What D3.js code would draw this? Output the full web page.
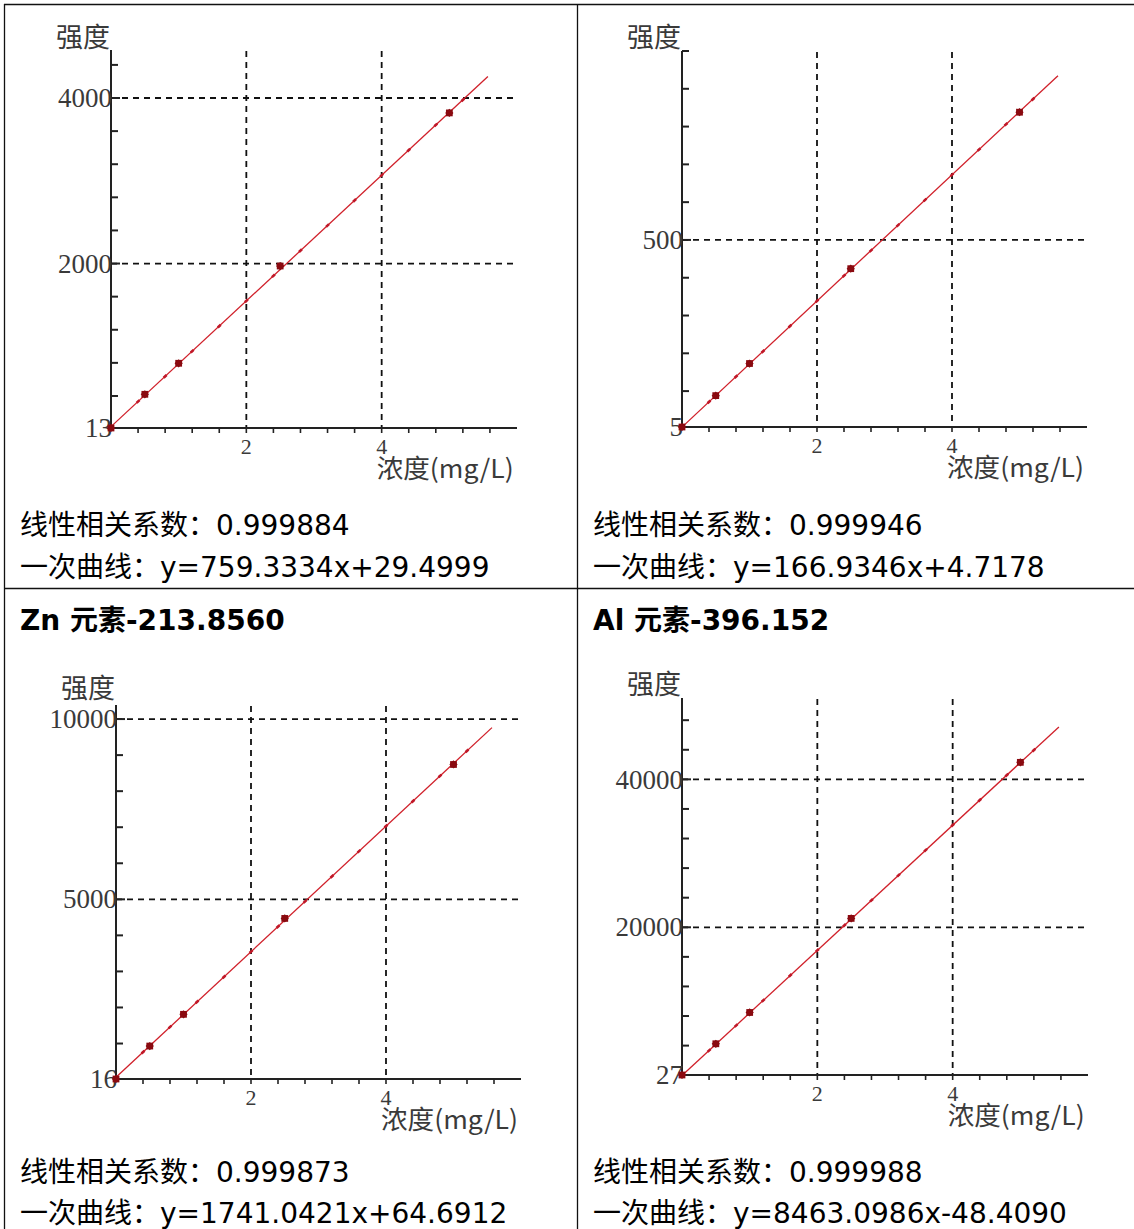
<!DOCTYPE html>
<html>
<head>
<meta charset="utf-8">
<script src="https://cdn.jsdelivr.net/npm/d3@7"></script>
<style>
  html, body { margin: 0; padding: 0; background: #fff; }
  svg { display: block; }
</style>
</head>
<body>
<svg id="chart" width="1134" height="1229"></svg>
<script>
// Calibration data: standard concentrations (mg/L) and measured intensities
const concentrations = [0, 0.5, 1.0, 2.5, 5.0];
const intensityPanel1 = [13, 420, 795, 1970, 3820];
const intensityPanel2 = [5, 88, 173, 424, 838];
const intensityZn = [16, 930, 1810, 4470, 8740];
const intensityAl = [27, 4250, 8480, 21200, 42300];

// Linear fit results
const slopes = [759.3334, 166.9346, 1741.0421, 8463.0986];
const intercepts = [29.4999, 4.7178, 64.6912, -48.4090];
const correlationText = ["0.999884", "0.999946", "0.999873", "0.999988"];
const equationText = ["y=759.3334x+29.4999", "y=166.9346x+4.7178", "y=1741.0421x+64.6912", "y=8463.0986x-48.4090"];
const panelTitles = ["", "", "Zn 元素-213.8560", "Al 元素-396.152"];

// Axis settings
const yMinLabels = [13, 5, 16, 27];
const yAxisTop = [4580, 1000, 10390, 51000];
const yLabeledTicks = [[2000, 4000], [500], [5000, 10000], [20000, 40000]];
const yMinorSteps = [400, 100, 1000, 4000];
const xLabeledTicks = [2, 4];
const xMinorStep = 0.4;
const xAxisMax = 6;
const fitXMax = 5.57;

const intensities = [intensityPanel1, intensityPanel2, intensityZn, intensityAl];

// Page layout (pixel frames of each plot area and its cell)
const frames = [
  { left: 111, bottom: 428, top: 50, width: 406, labelY: 47, textX: 20, line1: 535, line2: 577 },
  { left: 682, bottom: 427, top: 51, width: 405, labelY: 47, textX: 593, line1: 535, line2: 577 },
  { left: 116, bottom: 1079, top: 705, width: 405, labelY: 698, textX: 20, line1: 1182, line2: 1223, titleY: 630 },
  { left: 682, bottom: 1075, top: 698, width: 406, labelY: 694, textX: 593, line1: 1182, line2: 1223, titleY: 630 }
];

const svg = d3.select("#chart");
const cjk = "'Noto Sans CJK SC', 'Noto Sans', sans-serif";
const serif = "'Liberation Serif', 'DejaVu Serif', serif";
const textFont = "'DejaVu Sans', 'Noto Sans CJK SC', sans-serif";
const chartInk = "#3a3a3a";

// Table grid lines
const table = svg.append("g").attr("stroke", "#111").attr("stroke-width", 1.3);
table.append("line").attr("x1", 4).attr("x2", 1134).attr("y1", 4.5).attr("y2", 4.5);
table.append("line").attr("x1", 4.5).attr("x2", 4.5).attr("y1", 4).attr("y2", 1229);
table.append("line").attr("x1", 577.5).attr("x2", 577.5).attr("y1", 4).attr("y2", 1229);
table.append("line").attr("x1", 4).attr("x2", 1134).attr("y1", 588.5).attr("y2", 588.5);

frames.forEach((f, i) => {
  const g = svg.append("g");
  const x = d3.scaleLinear().domain([0, xAxisMax]).range([f.left, f.left + f.width]);
  const y = d3.scaleLinear().domain([yMinLabels[i], yAxisTop[i]]).range([f.bottom, f.top]);

  // Dashed grid at labelled values
  const grid = g.append("g").attr("stroke", "#111").attr("stroke-width", 1.8).attr("stroke-dasharray", "6,5");
  grid.selectAll("line.h").data(yLabeledTicks[i]).join("line")
    .attr("x1", f.left).attr("x2", f.left + f.width)
    .attr("y1", d => y(d)).attr("y2", d => y(d));
  grid.selectAll("line.v").data(xLabeledTicks).join("line")
    .attr("class", "v")
    .attr("x1", d => x(d)).attr("x2", d => x(d))
    .attr("y1", f.top + 1).attr("y2", f.bottom);

  // Axes
  const axes = g.append("g").attr("stroke", "#222").attr("stroke-width", 2);
  axes.append("line").attr("x1", f.left).attr("x2", f.left).attr("y1", f.top).attr("y2", f.bottom);
  axes.append("line").attr("x1", f.left).attr("x2", f.left + f.width).attr("y1", f.bottom).attr("y2", f.bottom);

  const yMinor = d3.range(yMinorSteps[i], yAxisTop[i] + 1e-6, yMinorSteps[i]);
  axes.selectAll("line.yt").data(yMinor).join("line")
    .attr("class", "yt")
    .attr("x1", f.left).attr("x2", d => f.left + (yLabeledTicks[i].includes(d) ? 9 : 7))
    .attr("y1", d => y(d)).attr("y2", d => y(d));

  const xMinor = d3.range(xMinorStep, xAxisMax - 0.2, xMinorStep);
  axes.selectAll("line.xt").data(xMinor).join("line")
    .attr("class", "xt")
    .attr("stroke-width", 1.6)
    .attr("x1", d => x(d)).attr("x2", d => x(d))
    .attr("y1", f.bottom - 1).attr("y2", f.bottom + 5);

  // Axis labels
  const yLabels = [yMinLabels[i]].concat(yLabeledTicks[i]);
  g.selectAll("text.yl").data(yLabels).join("text")
    .attr("x", f.left + 1).attr("y", d => y(d)).attr("dy", "0.34em")
    .attr("text-anchor", "end")
    .attr("font-family", serif).attr("font-size", 27)
    .attr("fill", chartInk)
    .text(d => d);

  g.selectAll("text.xl").data(xLabeledTicks).join("text")
    .attr("x", d => x(d)).attr("y", f.bottom + 19).attr("dy", "0.34em")
    .attr("text-anchor", "middle")
    .attr("font-family", serif).attr("font-size", 22)
    .attr("fill", chartInk)
    .text(d => d);

  g.append("text")
    .attr("x", f.left - 1).attr("y", f.labelY)
    .attr("text-anchor", "end")
    .attr("font-family", cjk).attr("font-size", 27)
    .attr("fill", chartInk)
    .text("强度");

  g.append("text")
    .attr("x", x(4) - 5).attr("y", f.bottom + 50)
    .attr("font-family", cjk).attr("font-size", 26)
    .attr("textLength", 137).attr("lengthAdjust", "spacingAndGlyphs")
    .attr("fill", chartInk)
    .text("浓度(mg/L)");

  // Fitted calibration line
  const fit = d => slopes[i] * d + intercepts[i];
  const lineGen = d3.line().x(d => x(d)).y(d => y(fit(d)));
  g.append("path")
    .attr("d", lineGen([0, fitXMax]))
    .attr("fill", "none").attr("stroke", "#d0202a").attr("stroke-width", 1.3);
  const seg = Math.hypot(x(xMinorStep) - x(0), y(fit(xMinorStep)) - y(fit(0)));
  g.append("path")
    .attr("d", lineGen([0, fitXMax]))
    .attr("fill", "none").attr("stroke", "#c01828").attr("stroke-width", 2.6)
    .attr("stroke-dasharray", `4,${seg - 4}`)
    .attr("stroke-dashoffset", 2);

  // Standard points
  g.selectAll("path.pt").data(concentrations).join("path")
    .attr("class", "pt")
    .attr("transform", (d, k) => `translate(${x(d)},${y(intensities[i][k])})`)
    .attr("d", d3.symbol().type(d3.symbolSquare).size(46))
    .attr("fill", "#8a0a10");
  g.selectAll("path.pt2").data(concentrations).join("path")
    .attr("class", "pt2")
    .attr("transform", (d, k) => `translate(${x(d)},${y(intensities[i][k])}) rotate(45)`)
    .attr("d", d3.symbol().type(d3.symbolSquare).size(34))
    .attr("fill", "#8a0a10");

  // Cell texts
  if (panelTitles[i]) {
    g.append("text")
      .attr("x", f.textX).attr("y", f.titleY)
      .attr("font-family", textFont).attr("font-size", 28).attr("font-weight", "bold")
      .attr("fill", "#000")
      .text(panelTitles[i]);
  }
  g.append("text")
    .attr("x", f.textX).attr("y", f.line1)
    .attr("font-family", textFont).attr("font-size", 28)
    .attr("fill", "#000")
    .text("线性相关系数：" + correlationText[i]);
  g.append("text")
    .attr("x", f.textX).attr("y", f.line2)
    .attr("font-family", textFont).attr("font-size", 28)
    .attr("fill", "#000")
    .text("一次曲线：" + equationText[i]);
});
</script>
</body>
</html>
